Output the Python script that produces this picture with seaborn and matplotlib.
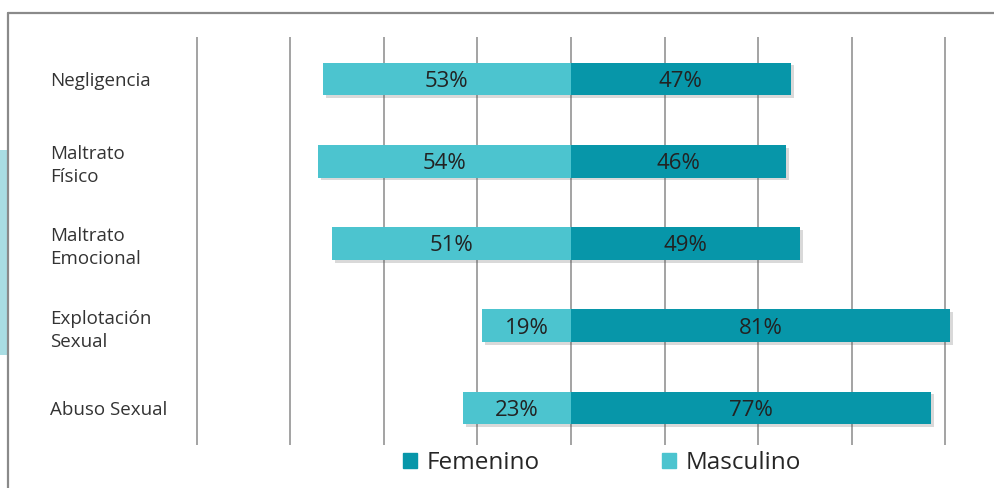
"""Distribución por sexo según tipo de maltrato."""

import matplotlib.pyplot as plt
import matplotlib.patheffects as pe
from matplotlib.patches import Patch, Rectangle
from matplotlib.lines import Line2D
import pandas as pd
import seaborn as sns

categorias = ["Negligencia", "Maltrato\nFísico", "Maltrato\nEmocional",
              "Explotación\nSexual", "Abuso Sexual"]
masculino = [53, 54, 51, 19, 23]
femenino = [47, 46, 49, 81, 77]
ticks = [-80, -60, -40, -20, 0, 20, 40, 60, 80]

COLOR_FEM = "#0796a9"
COLOR_MAS = "#4cc4cf"

df = pd.DataFrame({
    "categoria": categorias * 2,
    "valor": [-v for v in masculino] + femenino,
    "sexo": ["Masculino"] * len(categorias) + ["Femenino"] * len(categorias),
})

sns.set_theme(style="white")
plt.rcParams["font.family"] = ["Open Sans", "DejaVu Sans"]

fig = plt.figure(figsize=(9.95, 4.88), dpi=100)
ax = fig.add_axes([0.1881, 0.0881, 0.7808, 0.836])

for x in ticks:
    ax.axvline(x, color="#a3a3a3", lw=1.4, zorder=0)

sns.barplot(
    data=df, y="categoria", x="valor", hue="sexo", orient="h",
    dodge=False, width=0.4, legend=False, linewidth=0,
    palette={"Masculino": COLOR_MAS, "Femenino": COLOR_FEM},
    order=categorias, hue_order=["Masculino", "Femenino"],
    saturation=1, ax=ax, zorder=2,
)

for patch in ax.patches:
    patch.set_path_effects([
        pe.SimplePatchShadow(offset=(2, -2), alpha=0.22, shadow_rgbFace="#555555"),
        pe.Normal(),
    ])

for cont, vals in zip(ax.containers, [masculino, femenino]):
    labels = ax.bar_label(cont, labels=[f"{v}%" for v in vals], label_type="center",
                          fontsize=16, color="#222222")
    for t in labels:
        t.set_va("center_baseline")

ax.set_xlim(-82, 84)
ax.set_ylim(4.45, -0.51)
ax.set_xticks([])
ax.set_xlabel("")
ax.set_ylabel("")
ax.set_yticks(range(len(categorias)))
ax.set_yticklabels(categorias, ha="left", fontsize=13.5, color="#333333",
                   linespacing=1.35)
ax.tick_params(axis="y", length=0, pad=98.6)
for s in ax.spines.values():
    s.set_visible(False)

# marco y franja lateral
fig.add_artist(Line2D([8 / 995, 1], [1 - 13 / 488, 1 - 13 / 488],
                      color="#8a8a8a", lw=1.6))
fig.add_artist(Line2D([8 / 995, 8 / 995], [0, 1 - 13 / 488],
                      color="#8a8a8a", lw=1.6))
fig.add_artist(Rectangle((0, 1 - 355 / 488), 7 / 995, 205 / 488,
                         color="#a9dde3", lw=0))

handles = [Patch(color=COLOR_FEM, label="Femenino"),
           Patch(color=COLOR_MAS, label="Masculino")]
fig.legend(handles=handles, loc="center", bbox_to_anchor=(602 / 995, 1 - 463 / 488),
           ncol=2, frameon=False, fontsize=17.5, handlelength=0.6, handleheight=0.6,
           handletextpad=0.4, columnspacing=5.0)

fig.savefig("out.png", dpi=100)
